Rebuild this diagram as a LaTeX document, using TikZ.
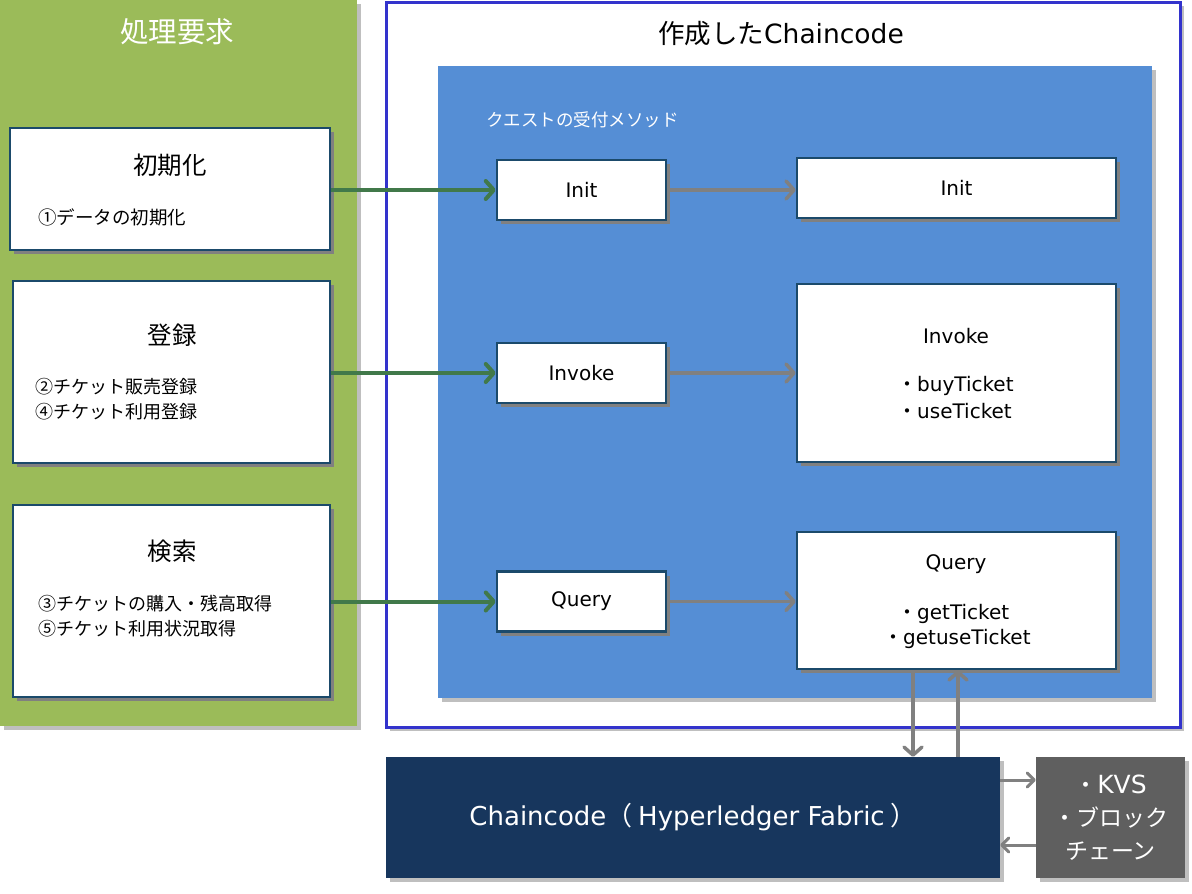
\documentclass[tikz,border=0pt]{standalone}
\usepackage{fontspec}
\setmainfont{Noto Sans CJK JP}
\newfontfamily\lat{DejaVu Sans}
\usetikzlibrary{arrows.meta,shadows}
\definecolor{panelgreen}{HTML}{9BBB59}
\definecolor{arrowgreen}{HTML}{41794A}
\definecolor{outlineblue}{HTML}{3333CC}
\definecolor{panelblue}{HTML}{558ED5}
\definecolor{boxborder}{HTML}{1B4A6B}
\definecolor{ccnavy}{HTML}{17365D}
\definecolor{kvsgray}{HTML}{5F5F5F}
\definecolor{arrowgray}{HTML}{808080}
\tikzset{
  fs/.style={font=\fontsize{#1}{#1}\selectfont},
  panelshadow/.style={drop shadow={shadow xshift=4pt,shadow yshift=-4pt,fill=black!25,opacity=1}},
  boxshadow/.style={drop shadow={shadow xshift=4pt,shadow yshift=-4pt,fill=arrowgray,opacity=1}},
  panel/.style={rectangle,inner sep=0pt,panelshadow},
  wbox/.style={rectangle,inner sep=0pt,fill=white,draw=boxborder,line width=2.5pt,boxshadow},
  txt/.style={inner sep=0pt,fs=#1},
  ltxt/.style={inner sep=0pt,font=\lat\fontsize{#1}{#1}\selectfont},
  garrow/.style={draw=arrowgreen,line width=4pt,-{Straight Barb[length=8pt,width=18pt,round]}},
  gyarrow/.style={draw=arrowgray,line width=3.5pt,-{Straight Barb[length=8pt,width=18pt,round]}},
}
\begin{document}
\begin{tikzpicture}[x=1pt,y=-1pt]
\useasboundingbox (0,0) rectangle (1192,894);
% panels
\node[panel,fill=panelgreen,minimum width=357pt,minimum height=726pt] (green) at (178.5,363) {};
\node[panel,fill=white,draw=outlineblue,line width=3pt,minimum width=794pt,minimum height=725pt] (outline) at (783,364.5) {};
\node[panel,fill=panelblue,minimum width=714pt,minimum height=632pt] (blue) at (795,382) {};
% titles
\node[txt=28.5,text=white] (t1) at (177,32) {処理要求};
\node[txt=26.5] (t2) at (781,34) {作成した{\lat Chaincode}};
\node[txt=17.5,text=white,anchor=west] (t3) at (486,120) {クエストの受付メソッド};
% left boxes
\node[wbox,minimum width=320pt,minimum height=122pt] (l1) at (170,189) {};
\node[wbox,minimum width=317pt,minimum height=182pt] (l2) at (171.5,372) {};
\node[wbox,minimum width=317pt,minimum height=192pt] (l3) at (171.5,601) {};
\node[txt=24.5] (l1t) at (170,165) {初期化};
\node[txt=18.5,anchor=west] (l1a) at (38,217) {①データの初期化};
\node[txt=24.5] (l2t) at (172,335) {登録};
\node[txt=18,anchor=west] (l2a) at (35,387) {②チケット販売登録};
\node[txt=18,anchor=west] (l2b) at (35,412) {④チケット利用登録};
\node[txt=24.5] (l3t) at (172,551) {検索};
\node[txt=18,anchor=west] (l3a) at (38,604) {③チケットの購入・残高取得};
\node[txt=18,anchor=west] (l3b) at (38,629) {⑤チケット利用状況取得};
% middle boxes
\node[wbox,minimum width=169pt,minimum height=60pt,font=\lat\fontsize{20}{20}\selectfont] (m1) at (581.5,190) {Init};
\node[wbox,minimum width=169pt,minimum height=60pt,font=\lat\fontsize{20}{20}\selectfont] (m2) at (581.5,373) {Invoke};
\node[wbox,minimum width=169pt,minimum height=60pt,font=\lat\fontsize{20}{20}\selectfont] (m3) at (581.5,601.5) {Query};
% right boxes
\node[wbox,minimum width=319pt,minimum height=60pt,font=\lat\fontsize{20}{20}\selectfont] (r1) at (956.5,188) {Init};
\node[wbox,minimum width=319pt,minimum height=178pt] (r2) at (956.5,373) {};
\node[wbox,minimum width=319pt,minimum height=137pt] (r3) at (956.5,600.5) {};
\node[ltxt=20] (r2t) at (956,336) {Invoke};
\node[txt=20,anchor=west] (r2a) at (897,386) {・{\lat buyTicket}};
\node[txt=20,anchor=west] (r2b) at (897,411) {・{\lat useTicket}};
\node[ltxt=20] (r3t) at (956,564) {Query};
\node[txt=20,anchor=west] (r3a) at (897,614) {・{\lat getTicket}};
\node[txt=20,anchor=west] (r3b) at (883,639) {・{\lat getuseTicket}};
% bottom boxes
\node[rectangle,inner sep=0pt,fill=ccnavy,minimum width=614pt,minimum height=121pt,panelshadow,text=white,fs=26] (cc) at (693,817.5) {{\lat Chaincode}（ {\lat Hyperledger Fabric} ）};
\node[rectangle,inner sep=0pt,fill=kvsgray,minimum width=149pt,minimum height=121pt,panelshadow,text=white,fs=23,align=center] (kvs) at (1110.5,817.5) {・{\lat\fontsize{25}{25}\selectfont KVS}\\[10pt]・ブロック\\[10pt]チェーン};
% arrows
\draw[garrow] (l1.east |- m1) -- (m1.west);
\draw[garrow] (l2.east |- m2) -- (m2.west);
\draw[garrow] (l3.east |- m3) -- (m3.west);
\draw[gyarrow] (m1.east) -- (r1.west |- m1);
\draw[gyarrow] (m2.east) -- (r2.west |- m2);
\draw[gyarrow] (m3.east) -- (r3.west |- m3);
\draw[gyarrow] (r3.south -| 913,0) -- (cc.north -| 913,0);
\draw[gyarrow] (cc.north -| 958,0) -- (r3.south -| 958,0);
\draw[gyarrow,line width=3pt,-{Straight Barb[length=7pt,width=14pt,round]}] (cc.east |- 0,780) -- (kvs.west |- 0,780);
\draw[gyarrow,line width=3pt,-{Straight Barb[length=7pt,width=14pt,round]}] (kvs.west |- 0,845) -- (cc.east |- 0,845);
\end{tikzpicture}
\end{document}
